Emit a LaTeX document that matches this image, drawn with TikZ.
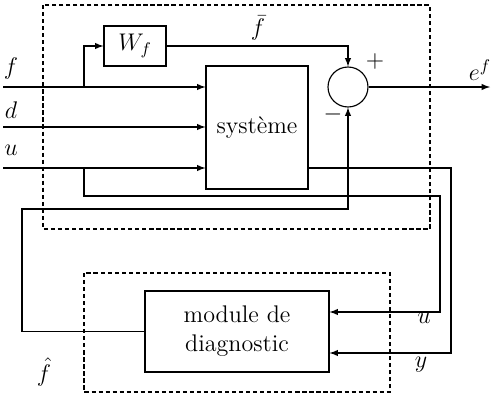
\documentclass[tikz,border=0pt]{standalone}
\usepackage{fix-cm}
\usepackage{fontspec}
\usetikzlibrary{arrows}
\begin{document}
\begin{tikzpicture}
	[x=0.02cm,y=-0.02cm,line width=0.65pt,>=latex,
	every node/.style={font=\fontsize{13.7}{16.5}\selectfont},
	bloc/.style={draw,rectangle,inner sep=0pt},
	somme/.style={draw,circle,minimum size=0.8cm,inner sep=0pt},
	cadre/.style={dash pattern=on 2.4pt off 1.6pt,line width=0.6pt}
	]
	\useasboundingbox (0,0) rectangle (501,403);
	% cadres en pointilles
	\draw[cadre] (43,5) rectangle (430,229);
	\draw[cadre] (84,273) rectangle (390,392);
	% blocs
	\node[bloc,minimum width=1.24cm,minimum height=0.8cm] (wf) at (135,46) {$W_f$};
	\node[bloc,minimum width=2.04cm,minimum height=2.46cm] (sys) at (257,127.5) {syst\`eme};
	\node[somme] (sum) at (348,87) {};
	\node[bloc,minimum width=3.68cm,minimum height=1.62cm,align=center] (mod) at (237,331.5) {module de\\diagnostic};
	% points
	\coordinate (fin) at (3,87);
	\coordinate (din) at (3,127);
	\coordinate (uin) at (3,168);
	\coordinate (fb) at (84,87);
	\coordinate (ub) at (84,168);
	\coordinate (ef) at (490,87);
	% entrees
	\draw[->] (fin) -- (fin -| sys.west);
	\draw[->] (din) -- (din -| sys.west);
	\draw[->] (uin) -- (uin -| sys.west);
	\draw[->] (fb) |- (wf.west);
	\draw[->] (wf.east) -| (sum.north);
	\draw[->] (sum.east) -- (ef);
	% vers le module
	\draw[->] (ub) |- (440,196) |- ([yshift=0.39cm]mod.east);
	\draw[->] (sys.east |- uin) -| (451,250) |- ([yshift=-0.43cm]mod.east);
	\draw[->] (mod.west) -| (22,209) -| (sum.south);
	% textes
	\node at (11,68) {$f$};
	\node at (11,110) {$d$};
	\node at (11,150) {$u$};
	\node at (258,28) {$\bar{f}$};
	\node at (375,61) {$+$};
	\node at (333,114) {$-$};
	\node at (480,70) {$e^f$};
	\node at (424,318) {$u$};
	\node at (421,365) {$y$};
	\node at (44,372) {$\hat{f}$};
\end{tikzpicture}
\end{document}
